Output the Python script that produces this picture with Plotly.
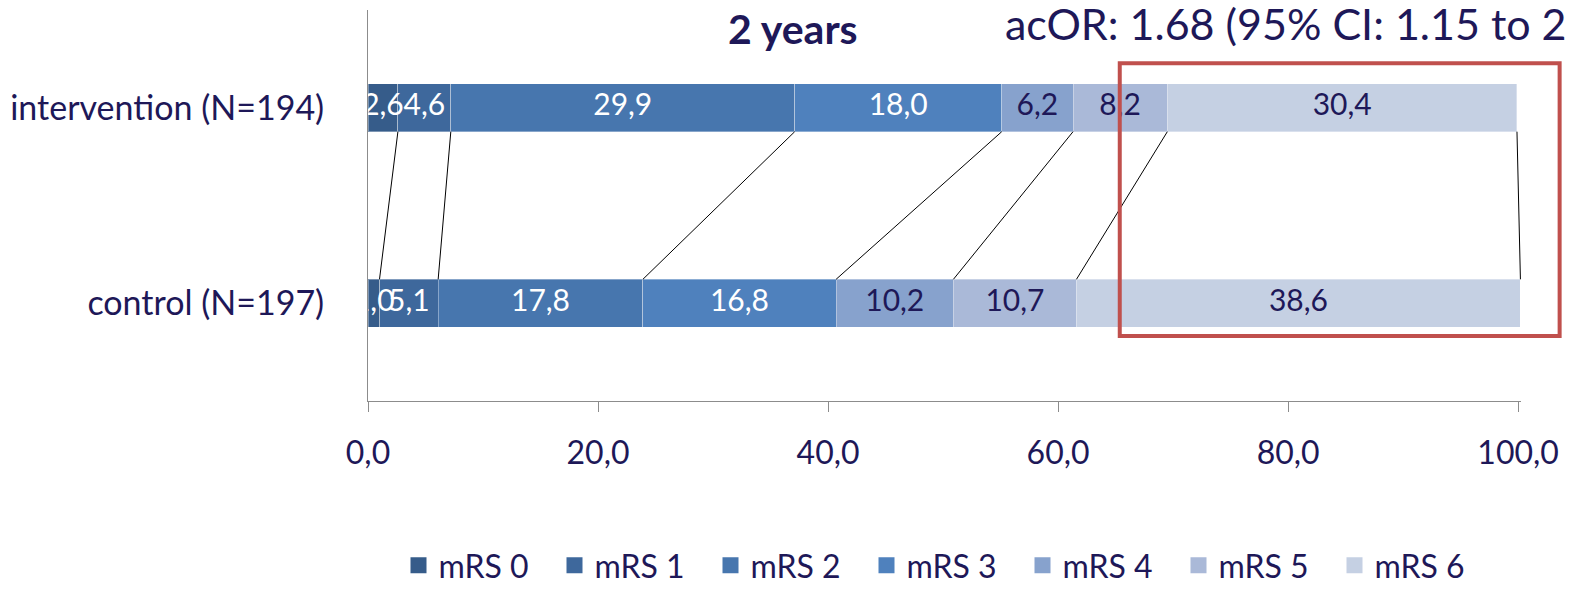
import numpy as np
import plotly.graph_objects as go

groups = ["control (N=197)", "intervention (N=194)"]
categories = ["mRS 0", "mRS 1", "mRS 2", "mRS 3", "mRS 4", "mRS 5", "mRS 6"]
intervention = [2.6, 4.6, 29.9, 18.0, 6.2, 8.2, 30.4]
control = [1.0, 5.1, 17.8, 16.8, 10.2, 10.7, 38.6]
colors = ["#365C8A", "#3E689C", "#4776AE", "#4F81BD", "#87A2CD", "#AAB9D8", "#C5D0E3"]
text_colors = ["white", "white", "white", "white", "#1E1858", "#1E1858", "#1E1858"]
x_ticks = [0, 20, 40, 60, 80, 100]
x_tick_text = ["0,0", "20,0", "40,0", "60,0", "80,0", "100,0"]

NAVY = "#1E1858"
FONT = "Lato"
BAR_W = 0.245


def fmt(v):
    return f"{v:.1f}".replace(".", ",")


fig = go.Figure()

# stacked segments
for i, name in enumerate(categories):
    vals = [control[i], intervention[i]]
    fig.add_trace(go.Bar(
        y=[0, 1], x=vals, orientation="h", name=name,
        width=BAR_W,
        marker=dict(color=colors[i], line=dict(color="rgba(255,255,255,0.35)", width=1)),
        showlegend=False, hoverinfo="skip",
    ))

# connector lines between cumulative boundaries of the two bars
cum_i = np.cumsum(intervention)
cum_c = np.cumsum(control)
for xi, xc in zip(cum_i, cum_c):
    fig.add_trace(go.Scatter(
        x=[xi, xc], y=[1 - BAR_W / 2, 0 + BAR_W / 2], mode="lines",
        line=dict(color="black", width=1), showlegend=False, hoverinfo="skip",
        cliponaxis=False,
    ))

# value labels centred in each segment, drawn above all bars
for i, name in enumerate(categories):
    fig.add_trace(go.Scatter(
        x=[cum_c[i] - control[i] / 2, cum_i[i] - intervention[i] / 2], y=[0, 1],
        mode="text", text=[fmt(control[i]), fmt(intervention[i])],
        textposition="middle center",
        textfont=dict(color=text_colors[i], size=30, family=FONT),
        showlegend=False, hoverinfo="skip", cliponaxis=True,
    ))

# legend entries with square swatches
for i, name in enumerate(categories):
    fig.add_trace(go.Scatter(
        x=[None], y=[None], mode="markers", name=name,
        marker=dict(symbol="square", size=22, color=colors[i]),
    ))

fig.add_annotation(
    text="<b>2 years</b>", xref="paper", yref="paper", x=0.369, y=1.0,
    xanchor="center", yanchor="top", yshift=8, showarrow=False,
    font=dict(size=41, color=NAVY, family=FONT),
)
fig.add_annotation(
    text="acOR: 1.68 (95% CI: 1.15 to 2", xref="paper", yref="paper", x=0.551, y=1.0,
    xanchor="left", yanchor="top", yshift=14, showarrow=False,
    font=dict(size=43, color=NAVY, family=FONT),
)

# highlight box around the worst-outcome segment
fig.add_shape(
    type="rect", xref="paper", yref="paper", x0=0.652, x1=1.0335, y0=0.166, y1=0.864,
    line=dict(color="#C0504D", width=4), layer="above",
)

fig.update_layout(
    width=1569, height=593,
    margin=dict(l=365, r=44, t=10, b=192),
    plot_bgcolor="white", paper_bgcolor="white",
    barmode="stack",
    font=dict(family=FONT, color=NAVY),
    xaxis=dict(
        range=[0, 100.25], tickvals=x_ticks, ticktext=x_tick_text,
        showline=True, linecolor="#8C8C8C", linewidth=1,
        ticks="outside", ticklen=10, tickcolor="#8C8C8C",
        showgrid=False, zeroline=False, ticklabelstandoff=14,
        tickfont=dict(size=32, color=NAVY, family=FONT),
    ),
    yaxis=dict(
        range=[-0.5, 1.5], tickvals=[0, 1], ticktext=groups,
        showline=True, linecolor="#8C8C8C", linewidth=1,
        showgrid=False, zeroline=False, ticks="", ticklabelstandoff=36,
        tickfont=dict(size=34, color=NAVY, family=FONT),
    ),
    legend=dict(
        orientation="h", xref="paper", x=0.5, xanchor="center",
        yref="container", y=-0.05, yanchor="bottom",
        font=dict(size=32, color=NAVY, family=FONT),
        itemwidth=30, tracegroupgap=0, traceorder="normal",
        entrywidth=111, entrywidthmode="pixels",
    ),
)

fig.write_html("out.html")
